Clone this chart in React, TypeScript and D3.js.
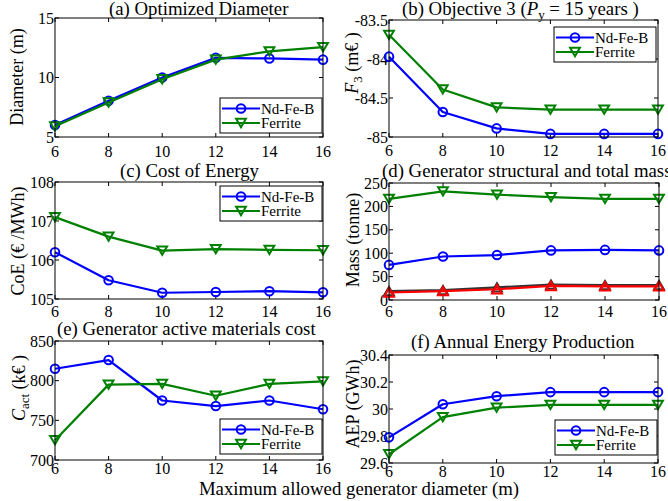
import React from 'react';
import * as d3 from 'd3';

// ---------- data ----------
const xValues = [6, 8, 10, 12, 14, 16];
const xTicks = [6, 8, 10, 12, 14, 16];

const diameterNdFeB = [6.0, 8.05, 10.0, 11.65, 11.6, 11.5];
const diameterFerrite = [5.9, 7.9, 9.85, 11.5, 12.2, 12.55];
const diameterTicks = [5, 10, 15];

const f3NdFeB = [-83.97, -84.68, -84.89, -84.96, -84.96, -84.96];
const f3Ferrite = [-83.69, -84.39, -84.62, -84.65, -84.65, -84.65];
const f3Ticks = [-85, -84.5, -84, -83.5];

const coeNdFeB = [106.2, 105.48, 105.16, 105.18, 105.2, 105.17];
const coeFerrite = [107.1, 106.6, 106.24, 106.28, 106.26, 106.25];
const coeTicks = [105, 106, 107, 108];

const massFerriteTotal = [216, 232, 225, 220, 216, 216];
const massNdFeBTotal = [75, 93, 96, 106, 107, 106];
const massStructuralA = [19, 21, 27, 33, 32, 32];
const massStructuralB = [16, 19, 23, 30, 29, 29];
const massTicks = [0, 50, 100, 150, 200, 250];

const cactNdFeB = [815, 826, 775, 768, 775, 764];
const cactFerrite = [725, 795, 796, 781, 796, 799];
const cactTicks = [700, 750, 800, 850];

const aepNdFeB = [29.79, 30.035, 30.095, 30.125, 30.125, 30.125];
const aepFerrite = [29.665, 29.94, 30.01, 30.03, 30.03, 30.03];
const aepTicks = [29.6, 29.8, 30, 30.2, 30.4];

const legendLabels = ['Nd-Fe-B', 'Ferrite'];

// ---------- styles ----------
const BLUE = '#0000ff';
const GREEN = '#008000';
const RED = '#ff0000';
const DARK = '#333333';
const FONT = '"Liberation Serif", "Times New Roman", serif';
const TITLE_SIZE = 18.8;

type MarkerType = 'circle' | 'down' | 'up';
type Series = { values: number[]; color: string; marker: MarkerType };

function Marker({ type, x, y, color }: { type: MarkerType; x: number; y: number; color: string }) {
  if (type === 'circle') {
    return <circle cx={x} cy={y} r={4.3} fill="none" stroke={color} strokeWidth={2} />;
  }
  const s = 4.9;
  const pts =
    type === 'down'
      ? [[x - s, y - s * 0.85], [x + s, y - s * 0.85], [x, y + s * 0.85]]
      : [[x - s, y + s * 0.85], [x + s, y + s * 0.85], [x, y - s * 0.85]];
  return (
    <polygon
      points={pts.map((p) => p.join(',')).join(' ')}
      fill="none"
      stroke={color}
      strokeWidth={2}
      strokeLinejoin="miter"
    />
  );
}

type PanelProps = {
  left: number;
  right: number;
  top: number;
  bottom: number;
  domain: [number, number];
  yTicks: number[];
  series: Series[];
  title: React.ReactNode;
  titleX: number;
  titleY: number;
  ylabel: React.ReactNode;
  ylabelX: number;
  ylabelY: number;
  xTickDy: number;
  legend?: { x: number; y: number };
};

function Panel(p: PanelProps) {
  const x = d3.scaleLinear().domain([6, 16]).range([p.left, p.right]);
  const y = d3.scaleLinear().domain(p.domain).range([p.bottom, p.top]);
  const line = d3
    .line<number>()
    .x((_, i) => x(xValues[i]))
    .y((d) => y(d));
  const tl = 4;
  return (
    <g fontFamily={FONT}>
      <rect x={p.left} y={p.top} width={p.right - p.left} height={p.bottom - p.top} fill="white" />
      {xTicks.map((t) => (
        <g key={'xt' + t}>
          <line x1={x(t)} x2={x(t)} y1={p.bottom} y2={p.bottom - tl} stroke="black" strokeWidth={1} />
          <line x1={x(t)} x2={x(t)} y1={p.top} y2={p.top + tl} stroke="black" strokeWidth={1} />
          <text x={x(t)} y={p.bottom + p.xTickDy} textAnchor="middle" fontSize={16}>
            {String(t)}
          </text>
        </g>
      ))}
      {p.yTicks.map((t) => (
        <g key={'yt' + t}>
          <line x1={p.left} x2={p.left + tl} y1={y(t)} y2={y(t)} stroke="black" strokeWidth={1} />
          <line x1={p.right} x2={p.right - tl} y1={y(t)} y2={y(t)} stroke="black" strokeWidth={1} />
          <text x={p.left - 1} y={y(t) + 5.5} textAnchor="end" fontSize={16}>
            {String(t)}
          </text>
        </g>
      ))}
      {p.series.map((s, si) => (
        <g key={'s' + si}>
          <path d={line(s.values) || ''} fill="none" stroke={s.color} strokeWidth={2.2} strokeLinejoin="round" />
          {s.values.map((v, i) => (
            <Marker key={i} type={s.marker} x={x(xValues[i])} y={y(v)} color={s.color} />
          ))}
        </g>
      ))}
      <rect
        x={p.left}
        y={p.top}
        width={p.right - p.left}
        height={p.bottom - p.top}
        fill="none"
        stroke="black"
        strokeWidth={1}
      />
      <text x={p.titleX} y={p.titleY} fontSize={TITLE_SIZE}>
        {p.title}
      </text>
      <text transform={`translate(${p.ylabelX},${p.ylabelY}) rotate(-90)`} textAnchor="middle" fontSize={18}>
        {p.ylabel}
      </text>
      {p.legend && (
        <g>
          <rect x={p.legend.x} y={p.legend.y} width={102} height={35} fill="white" stroke="black" strokeWidth={1} />
          {p.series.slice(0, 2).map((s, i) => {
            const ly = p.legend!.y + 10.5 + i * 14.5;
            return (
              <g key={'lg' + i}>
                <line x1={p.legend!.x + 2} x2={p.legend!.x + 40} y1={ly} y2={ly} stroke={s.color} strokeWidth={2.2} />
                <Marker type={s.marker} x={p.legend!.x + 21} y={ly} color={s.color} />
                <text x={p.legend!.x + 41} y={ly + 5} fontSize={15}>
                  {legendLabels[i]}
                </text>
              </g>
            );
          })}
        </g>
      )}
    </g>
  );
}

export default function App() {
  const nd = (v: number[]): Series => ({ values: v, color: BLUE, marker: 'circle' });
  const fe = (v: number[]): Series => ({ values: v, color: GREEN, marker: 'down' });
  return (
    <svg
      width={668}
      height={501}
      style={{ position: 'absolute', left: 0, top: 0, background: 'white' }}
      fontFamily={FONT}
    >
      <rect x={0} y={0} width={668} height={501} fill="white" />
      <Panel
        left={55}
        right={323}
        top={18}
        bottom={137}
        domain={[5, 15]}
        yTicks={diameterTicks}
        series={[nd(diameterNdFeB), fe(diameterFerrite)]}
        title="(a) Optimized Diameter"
        titleX={109}
        titleY={15}
        ylabel="Diameter (m)"
        ylabelX={23}
        ylabelY={77}
        xTickDy={19.5}
        legend={{ x: 220, y: 98 }}
      />
      <Panel
        left={389}
        right={658}
        top={20}
        bottom={137}
        domain={[-85, -83.5]}
        yTicks={f3Ticks}
        series={[nd(f3NdFeB), fe(f3Ferrite)]}
        title={
          <>
            <tspan>(b) Objective 3 (</tspan>
            <tspan fontStyle="italic">P</tspan>
            <tspan fontSize={13} dy={4}>y</tspan>
            <tspan dy={-4}> = 15 years )</tspan>
          </>
        }
        titleX={402}
        titleY={15}
        ylabel={
          <>
            <tspan fontStyle="italic">F</tspan>
            <tspan fontSize={13} dy={4}>3</tspan>
            <tspan dy={-4}> (m€ )</tspan>
          </>
        }
        ylabelX={358}
        ylabelY={63}
        xTickDy={19}
        legend={{ x: 554, y: 27 }}
      />
      <Panel
        left={55}
        right={323}
        top={182}
        bottom={299}
        domain={[105, 108]}
        yTicks={coeTicks}
        series={[nd(coeNdFeB), fe(coeFerrite)]}
        title="(c) Cost of Energy"
        titleX={120}
        titleY={177}
        ylabel="CoE (€ /MWh)"
        ylabelX={24}
        ylabelY={241}
        xTickDy={18}
        legend={{ x: 220, y: 186 }}
      />
      <Panel
        left={389}
        right={659}
        top={183}
        bottom={300}
        domain={[0, 250]}
        yTicks={massTicks}
        series={[
          fe(massFerriteTotal),
          nd(massNdFeBTotal),
          { values: massStructuralA, color: DARK, marker: 'up' },
          { values: massStructuralB, color: RED, marker: 'up' },
        ]}
        title="(d) Generator structural and total mass"
        titleX={382}
        titleY={177}
        ylabel="Mass (tonne)"
        ylabelX={359}
        ylabelY={240}
        xTickDy={17}
      />
      <Panel
        left={55}
        right={323}
        top={341}
        bottom={460}
        domain={[700, 850]}
        yTicks={cactTicks}
        series={[nd(cactNdFeB), fe(cactFerrite)]}
        title="(e) Generator active materials cost"
        titleX={57}
        titleY={335}
        ylabel={
          <>
            <tspan fontStyle="italic">C</tspan>
            <tspan fontSize={13} dy={4}>act</tspan>
            <tspan dy={-4}> (k€ )</tspan>
          </>
        }
        ylabelX={25}
        ylabelY={388}
        xTickDy={13.5}
        legend={{ x: 220, y: 419 }}
      />
      <Panel
        left={389}
        right={658}
        top={355}
        bottom={463}
        domain={[29.6, 30.4]}
        yTicks={aepTicks}
        series={[nd(aepNdFeB), fe(aepFerrite)]}
        title="(f) Annual Energy Production"
        titleX={411}
        titleY={348}
        ylabel="AEP (GWh)"
        ylabelX={359}
        ylabelY={404}
        xTickDy={14}
        legend={{ x: 555, y: 420 }}
      />
      <text x={359} y={495} textAnchor="middle" fontSize={TITLE_SIZE} fontFamily={FONT}>
        Maximum allowed generator diameter (m)
      </text>
    </svg>
  );
}
